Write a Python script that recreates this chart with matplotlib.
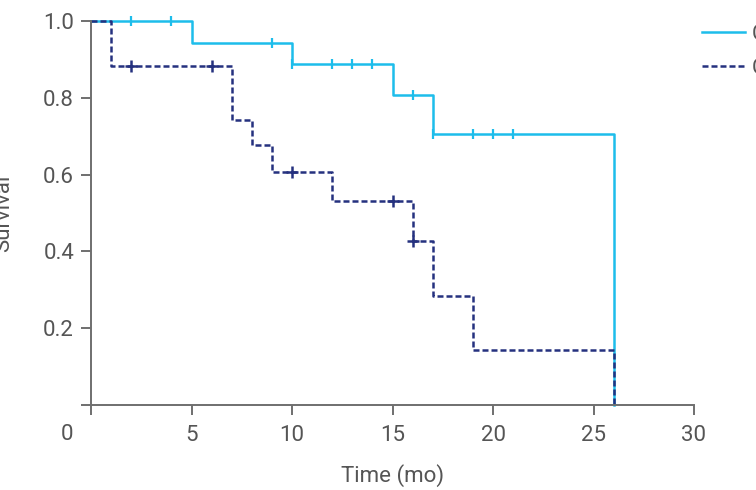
import numpy as np
import matplotlib
matplotlib.use("Agg")
import matplotlib.pyplot as plt

# ---- data ----
g1_label = "CR"
g1_times = [5, 10, 15, 17, 26]
g1_surv = [0.944, 0.889, 0.808, 0.707, 0.0]
g1_censor = [2, 4, 9, 10, 12, 13, 14, 16, 17, 19, 20, 21]

g2_label = "Control"
g2_times = [1, 7, 8, 9, 12, 16, 17, 19, 26]
g2_surv = [0.882, 0.743, 0.676, 0.608, 0.532, 0.426, 0.284, 0.142, 0.0]
g2_censor = [2, 6, 10, 15, 16]

x_ticks = [0, 5, 10, 15, 20, 25, 30]
y_ticks = [0, 0.2, 0.4, 0.6, 0.8, 1.0]
y_ticklabels = ["", "0.2", "0.4", "0.6", "0.8", "1.0"]

c1 = "#1DBDEB"
c2 = "#25317F"
gray = "#555555"
FS = 16

plt.rcParams["font.family"] = ["Roboto", "DejaVu Sans"]

fig = plt.figure(figsize=(7.56, 4.90), dpi=100)
ax = fig.add_axes([91 / 756, 1 - 405 / 490, 603 / 756, 384 / 490])


def surv_at(times, surv, t):
    idx = np.searchsorted(times, t, side="right")
    return 1.0 if idx == 0 else surv[idx - 1]


# group 1
x1 = [0] + g1_times
y1 = [1.0] + g1_surv
ax.plot(x1, y1, drawstyle="steps-post", color=c1, lw=1.8, clip_on=False, label=g1_label)
ax.plot(g1_censor, [surv_at(g1_times, g1_surv, t) for t in g1_censor], ls="none",
        marker="|", ms=7.5, mew=1.6, color=c1, clip_on=False)

# group 2
x2 = [0] + g2_times
y2 = [1.0] + g2_surv
ax.plot(x2, y2, drawstyle="steps-post", color=c2, lw=1.8, dashes=(2.4, 1.2),
        clip_on=False, label=g2_label)
ax.plot(g2_censor, [surv_at(g2_times, g2_surv, t) for t in g2_censor], ls="none",
        marker="+", ms=8, mew=1.8, color=c2, clip_on=False)

ax.set_xlim(0, 30)
ax.set_ylim(0, 1)
for s in ["top", "right"]:
    ax.spines[s].set_visible(False)
for s in ["left", "bottom"]:
    ax.spines[s].set_color("#6f6f6f")
    ax.spines[s].set_linewidth(1.4)

ax.set_xticks(x_ticks)
ax.set_xticklabels([""] + [str(v) for v in x_ticks[1:]])
ax.set_yticks(y_ticks)
ax.set_yticklabels(y_ticklabels)
ax.tick_params(axis="both", length=7.2, width=1.4, color="#6f6f6f", labelcolor=gray,
               labelsize=FS, direction="out")
ax.tick_params(axis="x", pad=7.5)
ax.tick_params(axis="y", pad=5)

ax.annotate(str(x_ticks[0]), xy=(0, 0), xycoords=("data", "axes fraction"),
            xytext=(-17, -21.5), textcoords="offset points", ha="center", va="center",
            fontsize=FS, color=gray)

ax.set_xlabel("Time (mo)", fontsize=FS, color=gray, labelpad=13)
ax.set_ylabel("Survival", fontsize=FS, color=gray)
ax.yaxis.set_label_coords(-0.128, 0.5)

ax.legend(loc="upper left", bbox_to_anchor=(702 / 756, 1 - 24 / 490),
          bbox_transform=fig.transFigure, frameon=False, fontsize=FS,
          handlelength=1.94, handletextpad=0.3, labelspacing=0.58,
          borderaxespad=0, borderpad=0, labelcolor=gray)

fig.savefig("out.png", dpi=100)
